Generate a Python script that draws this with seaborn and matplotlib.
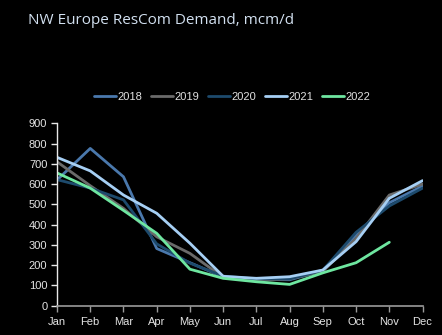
import matplotlib
matplotlib.use("Agg")
import matplotlib.pyplot as plt
import seaborn as sns
import pandas as pd

months = ["Jan", "Feb", "Mar", "Apr", "May", "Jun", "Jul", "Aug", "Sep", "Oct", "Nov", "Dec"]
years = ["2018", "2019", "2020", "2021", "2022"]

d2018 = [620, 776, 636, 282, 212, 142, 130, 128, 172, 350, 508, 590]
d2019 = [710, 592, 480, 340, 258, 140, 124, 132, 170, 332, 546, 600]
d2020 = [622, 580, 522, 305, 210, 146, 132, 132, 175, 362, 492, 580]
d2021 = [732, 665, 546, 456, 308, 145, 135, 143, 176, 316, 530, 617]
d2022 = [655, 580, 470, 357, 180, 135, 118, 105, 162, 212, 313]

series = {"2018": d2018, "2019": d2019, "2020": d2020, "2021": d2021, "2022": d2022}
colors = {"2018": "#4a78ac", "2019": "#6a6a6a", "2020": "#1d4a6c",
          "2021": "#a6cff4", "2022": "#6ee6a0"}

rows = []
for y in years:
    for i, v in enumerate(series[y]):
        rows.append({"year": y, "pos": i, "month": months[i], "value": v})
df = pd.DataFrame(rows)

sns.set_style("dark")
plt.rcParams["font.family"] = ["Liberation Sans", "DejaVu Sans"]

fig = plt.figure(figsize=(4.42, 3.35), dpi=100, facecolor="black")
ax = fig.add_axes([0.129, 0.0875, 0.827, 0.5445])
ax.set_facecolor("black")

sns.lineplot(data=df, x="pos", y="value", hue="year", hue_order=years,
             palette=colors, linewidth=2.0, ax=ax, legend=True, sort=False)

ax.set_xlim(0, 11)
ax.set_ylim(0, 900)
ax.set_xticks(range(12))
ax.set_xticklabels(months)
ax.set_yticks(range(0, 901, 100))
ax.set_xlabel("")
ax.set_ylabel("")
ax.grid(False)

for side in ["top", "right"]:
    ax.spines[side].set_visible(False)
ax.spines["left"].set_visible(True)
ax.spines["left"].set_color("#e8e8e8")
ax.spines["left"].set_linewidth(1.0)
ax.spines["bottom"].set_visible(True)
ax.spines["bottom"].set_color("#9a9a9a")
ax.spines["bottom"].set_linewidth(1.2)
ax.tick_params(axis="y", colors="#e8e8e8", labelcolor="#e4e4e4", labelsize=8,
               length=4, width=1, direction="out", left=True, pad=3)
ax.tick_params(axis="x", colors="#9a9a9a", labelcolor="#e4e4e4", labelsize=8,
               length=4, width=1, direction="out", bottom=True, pad=4)

handles, labels = ax.get_legend_handles_labels()
fig.legend(handles, labels, loc="center", bbox_to_anchor=(0.525, 0.711),
           ncol=5, frameon=False, fontsize=8, handlelength=2.0,
           handletextpad=0.1, columnspacing=0.8, labelcolor="#e0e0e0")
if ax.get_legend():
    ax.get_legend().remove()

fig.text(0.063, 0.94, "NW Europe ResCom Demand, mcm/d", color="#d2e0f0",
         fontsize=11, family=["Open Sans", "DejaVu Sans"], va="center", ha="left")

fig.savefig("out.png", dpi=100, facecolor="black")
